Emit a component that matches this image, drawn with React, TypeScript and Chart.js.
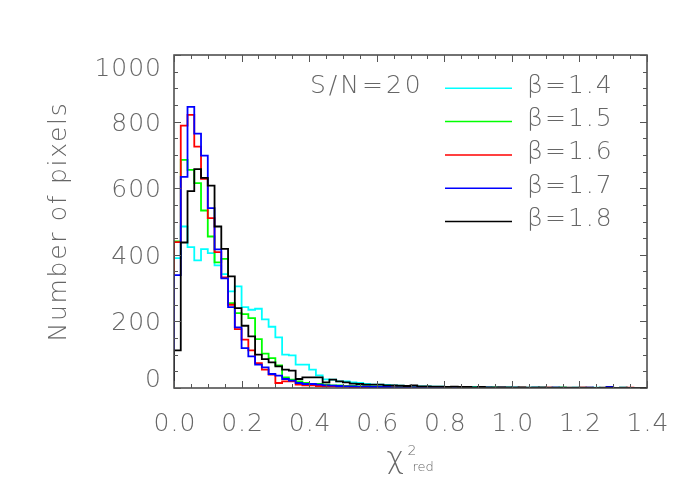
import { useEffect, useRef } from 'react';
import { Chart, registerables } from 'chart.js';

Chart.register(...registerables);

const binWidth = 0.02;
const xMin = 0;
const xMax = 1.4;
const yMin = 0;
const yMax = 1000;

const xTickLabels = ['0.0', '0.2', '0.4', '0.6', '0.8', '1.0', '1.2', '1.4'];
const yTickLabels = ['0', '200', '400', '600', '800', '1000'];
const xMinorStep = 0.05;
const yMinorStep = 50;

const yTitle = 'Number of pixels';
const xTitleMain = 'χ';
const xTitleSup = '2';
const xTitleSub = 'red';
const annotation = 'S/N=20';

const seriesLabels = ['β=1.4', 'β=1.5', 'β=1.6', 'β=1.7', 'β=1.8'];
const seriesColors = ['#00ffff', '#00ff00', '#ff0000', '#0000ff', '#000000'];

const beta14 = [
  390, 485, 423, 383, 417, 405, 368, 342, 290, 305,
  243, 235, 238, 206, 184, 152, 100, 98, 70, 70,
  55, 38, 26, 25, 20, 20, 17, 15, 12, 10,
  10, 9, 8, 7, 6, 6, 5, 5, 4, 4,
  3, 3, 3, 2, 3, 2, 2, 2, 1, 2,
  1, 1, 1, 1, 1, 0, 1, 1, 0, 1,
  0, 0, 1, 0, 0, 0, 1, 0, 0, 0,
];
const beta15 = [
  440, 685, 655, 615, 533, 455, 377, 388, 255, 225,
  222, 210, 147, 103, 90, 68, 32, 25, 20, 15,
  12, 12, 10, 8, 8, 6, 6, 5, 5, 4,
  4, 3, 3, 3, 2, 2, 2, 2, 1, 2,
  1, 1, 1, 1, 1, 1, 0, 1, 1, 0,
  1, 0, 0, 1, 0, 0, 0, 1, 0, 0,
  0, 0, 0, 0, 1, 0, 0, 0, 0, 0,
];
const beta16 = [
  438, 788, 820, 725, 628, 510, 408, 332, 250, 177,
  145, 113, 75, 55, 40, 15, 20, 20, 10, 8,
  8, 6, 5, 5, 4, 4, 3, 3, 3, 2,
  2, 2, 2, 1, 2, 1, 1, 1, 1, 1,
  1, 0, 1, 1, 0, 1, 0, 0, 1, 0,
  0, 1, 0, 0, 0, 1, 0, 0, 0, 0,
  1, 0, 0, 0, 0, 0, 0, 1, 0, 0,
];
const beta17 = [
  339, 634, 844, 764, 698, 540, 416, 329, 243, 182,
  120, 95, 70, 62, 42, 37, 27, 22, 15, 12,
  12, 10, 8, 7, 6, 5, 5, 4, 4, 3,
  3, 3, 2, 2, 2, 2, 1, 2, 1, 1,
  1, 1, 1, 1, 0, 1, 1, 0, 1, 0,
  1, 0, 0, 1, 0, 0, 1, 0, 0, 0,
  0, 1, 0, 0, 3, 0, 0, 0, 0, 0,
];
const beta18 = [
  113, 437, 591, 657, 631, 608, 485, 418, 335, 240,
  187, 155, 100, 87, 77, 65, 55, 52, 27, 32,
  32, 32, 17, 25, 20, 17, 13, 12, 10, 10,
  10, 8, 8, 7, 6, 8, 5, 5, 4, 4,
  3, 4, 3, 3, 2, 3, 2, 2, 2, 2,
  1, 2, 1, 1, 2, 1, 1, 1, 1, 1,
  1, 1, 0, 1, 1, 0, 1, 0, 0, 0,
];

const seriesValues = [beta14, beta15, beta16, beta17, beta18];

const FONT = '"DejaVu Sans", "Liberation Sans", sans-serif';
const TEXT_COLOR = '#666666';
const AXIS_COLOR = '#444444';

function histPoints(values: number[]) {
  const pts: { x: number; y: number }[] = [{ x: 0, y: 0 }];
  values.forEach((v, i) => pts.push({ x: i * binWidth, y: v }));
  pts.push({ x: values.length * binWidth, y: values[values.length - 1] });
  return pts;
}

const framePlugin = {
  id: 'idlFrame',
  afterDraw(chart: any) {
    const ctx: CanvasRenderingContext2D = chart.ctx;
    const { left, right, top, bottom } = chart.chartArea;
    const xs = chart.scales.x;
    const ys = chart.scales.y;
    ctx.save();
    // frame
    ctx.strokeStyle = AXIS_COLOR;
    ctx.lineWidth = 1.5;
    ctx.strokeRect(left, top, right - left, bottom - top);
    // ticks
    ctx.lineWidth = 1;
    ctx.strokeStyle = '#555555';
    const majorLen = 7;
    const minorLen = 4;
    ctx.beginPath();
    for (let v = xMin; v <= xMax + 1e-9; v += xMinorStep) {
      const isMajor = Math.abs(v / 0.2 - Math.round(v / 0.2)) < 1e-6;
      const len = isMajor ? majorLen : minorLen;
      const px = Math.round(xs.getPixelForValue(v)) + 0.5;
      ctx.moveTo(px, bottom);
      ctx.lineTo(px, bottom - len);
      ctx.moveTo(px, top);
      ctx.lineTo(px, top + len);
    }
    for (let v = yMin; v <= yMax + 1e-9; v += yMinorStep) {
      const isMajor = v % 200 === 0;
      const len = isMajor ? majorLen : minorLen;
      const py = Math.round(ys.getPixelForValue(v)) + 0.5;
      ctx.moveTo(left, py);
      ctx.lineTo(left + len, py);
      ctx.moveTo(right, py);
      ctx.lineTo(right - len, py);
    }
    ctx.stroke();

    // tick labels
    ctx.fillStyle = TEXT_COLOR;
    ctx.font = `200 25px ${FONT}`;
    (ctx as any).letterSpacing = '1px';
    ctx.textBaseline = 'alphabetic';
    ctx.textAlign = 'center';
    xTickLabels.forEach((lab) => {
      const px = xs.getPixelForValue(parseFloat(lab));
      ctx.fillText(lab, px + 1, bottom + 43);
    });
    ctx.textAlign = 'right';
    yTickLabels.forEach((lab) => {
      let py = ys.getPixelForValue(parseFloat(lab));
      py = Math.min(Math.max(py, top + 12), bottom - 10);
      ctx.fillText(lab, left - 12, py + 9);
    });

    // y title
    ctx.save();
    (ctx as any).letterSpacing = '1.7px';
    ctx.translate(66, (top + bottom) / 2);
    ctx.rotate(-Math.PI / 2);
    ctx.textAlign = 'center';
    ctx.fillText(yTitle, 0, 0);
    ctx.restore();

    // x title
    const cx = (left + right) / 2;
    (ctx as any).letterSpacing = '0px';
    ctx.textAlign = 'left';
    ctx.font = `200 30px ${FONT}`;
    ctx.fillText(xTitleMain, cx - 24, bottom + 80);
    ctx.font = `200 14px ${FONT}`;
    ctx.fillText(xTitleSup, cx - 3, bottom + 67);
    ctx.font = `200 13px ${FONT}`;
    ctx.fillText(xTitleSub, cx + 2, bottom + 83);

    // annotation and legend
    ctx.font = `200 25px ${FONT}`;
    (ctx as any).letterSpacing = '3px';
    const row0 = top + 33.3;
    ctx.fillText(annotation, left + 136, row0 + 4.4);
    (ctx as any).letterSpacing = '2px';
    seriesLabels.forEach((lab, i) => {
      const ly = row0 + i * 33.3;
      ctx.strokeStyle = seriesColors[i];
      ctx.lineWidth = 1.5;
      ctx.beginPath();
      ctx.moveTo(left + 271, ly);
      ctx.lineTo(left + 338, ly);
      ctx.stroke();
      ctx.fillStyle = TEXT_COLOR;
      ctx.fillText(lab, left + 353, ly + 4.4);
    });
    ctx.restore();
  },
};

export default function App() {
  const ref = useRef<HTMLCanvasElement | null>(null);
  useEffect(() => {
    if (!ref.current) return;
    const order = [4, 3, 2, 1, 0];
    const chart = new Chart(ref.current, {
      type: 'line',
      data: {
        datasets: seriesValues.map((vals, i) => ({
          label: seriesLabels[i],
          data: histPoints(vals),
          borderColor: seriesColors[i],
          backgroundColor: seriesColors[i],
          borderWidth: 1.8,
          pointRadius: 0,
          fill: false,
          stepped: 'before' as const,
          order: order[i],
        })),
      },
      options: {
        animation: false,
        responsive: false,
        maintainAspectRatio: false,
        layout: { padding: { left: 174, right: 53, top: 55, bottom: 112 } },
        plugins: { legend: { display: false }, tooltip: { enabled: false } },
        scales: {
          x: { type: 'linear', min: xMin, max: xMax, display: false },
          y: { type: 'linear', min: yMin, max: yMax, display: false },
        },
      },
      plugins: [framePlugin],
    });
    return () => chart.destroy();
  }, []);
  return (
    <div style={{ position: 'absolute', left: 0, top: 0, width: 700, height: 500, background: '#fff' }}>
      <canvas ref={ref} width={700} height={500} />
    </div>
  );
}
